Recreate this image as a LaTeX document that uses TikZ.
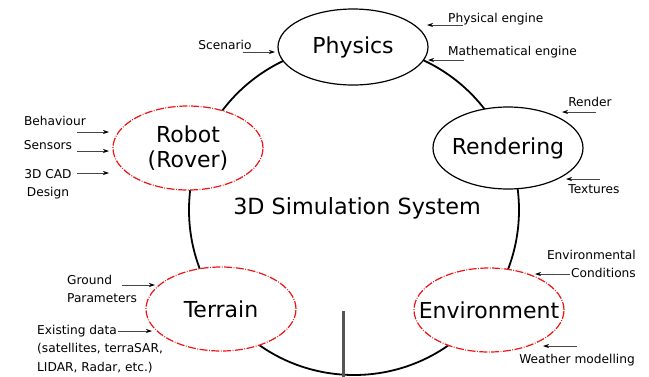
\documentclass[tikz,border=0pt]{standalone}
\usepackage{fontspec}
\setmainfont{DejaVu Sans}
\usetikzlibrary{shapes.geometric,arrows.meta}
\definecolor{dashred}{RGB}{240,20,20}
\definecolor{arrgray}{RGB}{70,70,70}
\definecolor{polegray}{RGB}{85,85,85}
\tikzset{
  comp/.style={ellipse,draw=black,line width=1.2pt,fill=white,minimum width=150pt,minimum height=80pt,inner sep=-22pt,font=\fontsize{22}{25}\selectfont,align=center},
  redcomp/.style={comp,draw=dashred,dash pattern=on 8pt off 1.5pt on 0.8pt off 1.5pt},
  lbl/.style={font=\fontsize{12.2}{18.5}\selectfont,inner sep=0pt},
  inarr/.style={draw=arrgray,line width=0.7pt,-{Stealth[length=6pt,width=4pt,color=black]}}
}
\begin{document}
\begin{tikzpicture}[x=1pt,y=-1pt]
\useasboundingbox (0,0) rectangle (649,376);
% main circle
\node[circle,draw=black,line width=1.8pt,minimum size=330pt,inner sep=0pt] (sys) at (354,210) {};
\node[font=\fontsize{22.3}{25}\selectfont,inner sep=0pt] (systxt) at (357,208) {3D Simulation System};
\coordinate (pole0) at (343,311);
\coordinate (pole1) at (343,380);
\draw[line width=3pt,draw=polegray] (pole0) -- (pole1);
% components
\node[comp,minimum height=76pt] (phys) at (353,47) {Physics};
\node[redcomp,minimum height=84pt] (robot) at (188,148) {Robot\\(Rover)};
\node[comp,minimum height=82pt] (rend) at (508,148) {Rendering};
\node[redcomp,minimum height=84pt] (terr) at (221,309) {Terrain};
\node[redcomp,minimum height=84pt] (env) at (489,310) {Environment};
% labels
\node[lbl] (scen) at (225,45) {Scenario};
\coordinate (scen0) at (243,52); \coordinate (scen1) at (275,52);
\draw[inarr] (scen0) -- (scen1);
\node[lbl,anchor=west] (pe) at (448,19) {Physical engine};
\coordinate (pe0) at (463,25); \coordinate (pe1) at (427,25);
\draw[inarr] (pe0) -- (pe1);
\node[lbl,anchor=west] (me) at (448,52) {Mathematical engine};
\coordinate (me0) at (464,60); \coordinate (me1) at (428,60);
\draw[inarr] (me0) -- (me1);
\node[lbl] (beh) at (55,121) {Behaviour};
\coordinate (beh0) at (77,132); \coordinate (beh1) at (109,132);
\draw[inarr] (beh0) -- (beh1);
\node[lbl] (sens) at (48,145) {Sensors};
\coordinate (sens0) at (77,151); \coordinate (sens1) at (109,151);
\draw[inarr] (sens0) -- (sens1);
\node[lbl,align=center] (cad) at (48,184) {3D CAD\\Design};
\coordinate (cad0) at (77,173); \coordinate (cad1) at (109,173);
\draw[inarr] (cad0) -- (cad1);
\node[lbl] (rnd) at (590,102) {Render};
\coordinate (rnd0) at (596,112); \coordinate (rnd1) at (562,112);
\draw[inarr] (rnd0) -- (rnd1);
\node[lbl] (tex) at (594,189) {Textures};
\coordinate (tex0) at (600,179); \coordinate (tex1) at (566,179);
\draw[inarr] (tex0) -- (tex1);
\node[lbl,align=left,anchor=west] (gp) at (67,289) {Ground\\Parameters};
\coordinate (gp0) at (122,285); \coordinate (gp1) at (155,285);
\draw[inarr] (gp0) -- (gp1);
\node[lbl,align=left,anchor=west] (ex) at (37,349) {Existing data\\(satellites, terraSAR,\\LIDAR, Radar, etc.)};
\coordinate (ex0) at (118,331); \coordinate (ex1) at (152,331);
\draw[inarr] (ex0) -- (ex1);
\node[lbl,align=right,anchor=east] (ec) at (636,264) {Environmental\\Conditions};
\coordinate (ec0) at (570,274); \coordinate (ec1) at (535,274);
\draw[inarr] (ec0) -- (ec1);
\node[lbl,anchor=east] (wm) at (635,360) {Weather modelling};
\coordinate (wm0) at (577,346); \coordinate (wm1) at (543,346);
\draw[inarr] (wm0) -- (wm1);
\end{tikzpicture}
\end{document}
